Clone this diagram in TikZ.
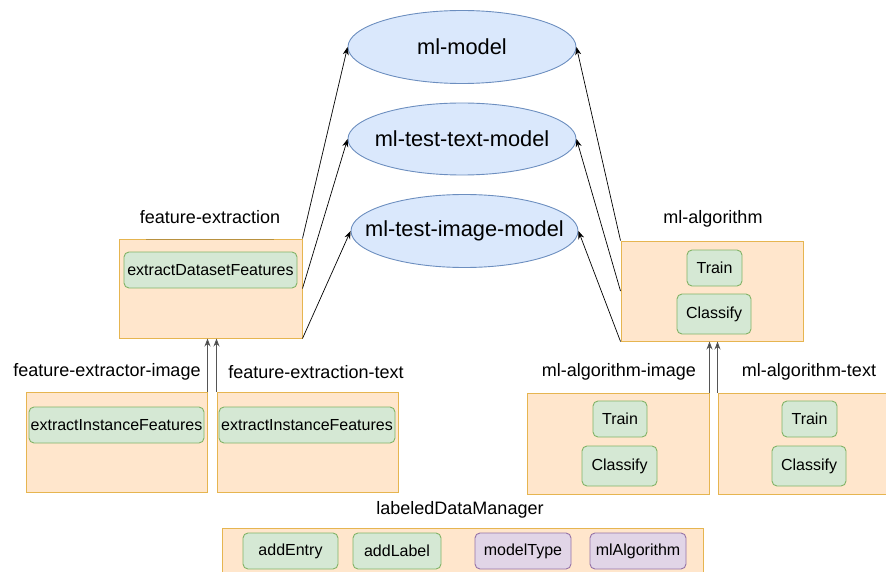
\documentclass[tikz,border=0pt]{standalone}
\usepackage{fontspec}
\setmainfont{Liberation Sans}
\usetikzlibrary{shapes.geometric,arrows.meta,calc}

\definecolor{boxfill}{HTML}{FFE6CC}
\definecolor{boxline}{HTML}{E6B550}
\definecolor{itemfill}{HTML}{D5E8D4}
\definecolor{itemline}{HTML}{82B366}
\definecolor{propfill}{HTML}{E1D5E7}
\definecolor{propline}{HTML}{9673A6}
\definecolor{modelfill}{HTML}{DAE8FC}
\definecolor{modelline}{HTML}{6C8EBF}
\definecolor{linkgray}{HTML}{555555}

\tikzset{
  compbox/.style={draw=boxline, fill=boxfill, line width=1pt, inner sep=0pt},
  method/.style={draw=itemline, fill=itemfill, line width=0.9pt, rounded corners=5pt,
    inner sep=0pt, minimum height=36pt, font=\fontsize{16}{19}\selectfont},
  attrib/.style={method, draw=propline, fill=propfill},
  model/.style={ellipse, draw=modelline, fill=modelfill, line width=0.9pt, inner sep=0pt,
    label={[font=\fontsize{21.8}{26}\selectfont, inner sep=0pt]center:#1}},
  title/.style={font=\fontsize{18}{22}\selectfont, inner sep=0pt},
  uplink/.style={draw=black, line width=0.7pt, -{Stealth[length=8pt,width=6pt]}},
  inherit/.style={draw=linkgray, line width=1pt, -{Stealth[length=8pt,width=6pt,fill=black]}}
}

\begin{document}
\begin{tikzpicture}[x=1pt,y=-1pt]
\useasboundingbox (0,0) rectangle (886,572);
\clip (0,0) rectangle (886,572);

% model ellipses
\node[model={ml-model}, minimum width=228pt, minimum height=73pt] (m1) at (462,47) {};
\node[model={ml-test-text-model}, minimum width=228pt, minimum height=72pt] (m2) at (462,139) {};
\node[model={ml-test-image-model}, minimum width=227pt, minimum height=73pt] (m3) at (464.5,231) {};

% feature extraction components
\node[title] (tfe) at (210,217) {feature-extraction};
\node[compbox, minimum width=183pt, minimum height=99pt] (fe) at (210.5,288.5) {};
\draw[draw=boxline!80!black, line width=1pt] (146,239) -- (274,239);
\node[method, minimum width=173pt] (edf) at (210.5,270) {extractDatasetFeatures};

\node[title] (tfei) at (107,372) {feature-extractor-image};
\node[compbox, minimum width=181pt, minimum height=100pt] (fei) at (116.5,442) {};
\node[method, minimum width=175pt] (eif1) at (116.5,425) {extractInstanceFeatures};

\node[title] (tfet) at (316,372) {feature-extraction-text};
\node[compbox, minimum width=181pt, minimum height=100pt] (fet) at (307.5,442) {};
\node[method, minimum width=176pt] (eif2) at (307,425) {extractInstanceFeatures};

% algorithm components
\node[title] (talg) at (713,219) {ml-algorithm};
\node[compbox, minimum width=182pt, minimum height=100pt] (alg) at (712,291) {};
\node[method, minimum width=55pt] (tr0) at (714.5,268) {Train};
\node[method, minimum width=74pt, minimum height=40pt] (cl0) at (714,314) {Classify};

\node[title] (tmai) at (619,372) {ml-algorithm-image};
\node[compbox, minimum width=182pt, minimum height=101pt] (mai) at (618,443.5) {};
\node[method, minimum width=54pt] (tr1) at (620,419) {Train};
\node[method, minimum width=75pt, minimum height=40pt] (cl1) at (619.5,466) {Classify};

\node[title] (tmat) at (809,372) {ml-algorithm-text};
\node[compbox, minimum width=182pt, minimum height=101pt] (mat) at (809,443.5) {};
\node[method, minimum width=55pt] (tr2) at (809.5,419) {Train};
\node[method, minimum width=74pt, minimum height=40pt] (cl2) at (809,466) {Classify};

% data manager
\node[title] (tldm) at (460,510) {labeledDataManager};
\node[compbox, minimum width=481pt, minimum height=60pt] (ldm) at (462.5,558) {};
\node[method, minimum width=95pt] (ae) at (290.5,551) {addEntry};
\node[method, minimum width=88pt] (al) at (397,551) {addLabel};
\node[attrib, minimum width=96pt] (mt) at (523,551) {modelType};
\node[attrib, minimum width=96pt] (ma) at (638,551) {mlAlgorithm};

% connectors to the models
\draw[uplink] (fe.north east) -- (m1.west);
\draw[uplink] (fe.east) -- (m2.west);
\draw[uplink] (fe.south east) -- (m3.west);
\draw[uplink] (alg.north west) -- (m1.east);
\draw[uplink] (alg.west) -- (m2.east);
\draw[uplink] (alg.south west) -- (m3.east);

% specialisations
\draw[inherit] (fei.north east) -- (fei.north east |- fe.south);
\draw[inherit] (fet.north west) -- (fet.north west |- fe.south);
\draw[inherit] (mai.north east) -- (mai.north east |- alg.south);
\draw[inherit] (mat.north west) -- (mat.north west |- alg.south);
\end{tikzpicture}
\end{document}
